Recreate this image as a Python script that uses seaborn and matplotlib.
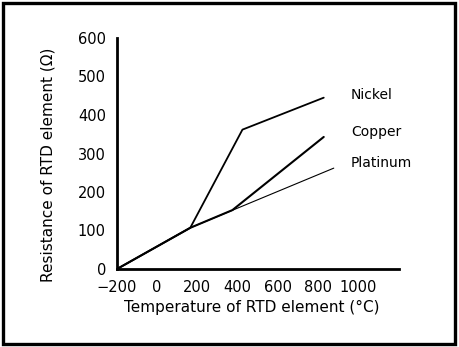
import matplotlib
matplotlib.use("Agg")
import matplotlib.pyplot as plt
from matplotlib.patches import Rectangle
import seaborn as sns
import pandas as pd

# Resistance vs. temperature for three RTD element materials
platinum_t = [-200, 165, 880]
platinum_r = [0, 107, 262]
copper_t = [-200, 165, 375, 830]
copper_r = [0, 107, 153, 343]
nickel_t = [-200, 165, 425, 830]
nickel_r = [0, 107, 362, 445]

x_ticks = [-200, 0, 200, 400, 600, 800, 1000]
y_ticks = [0, 100, 200, 300, 400, 500, 600]

series_labels = ["Nickel", "Copper", "Platinum"]
label_r = [452, 356, 275]
label_t = 965

sns.set_theme(style="white")
plt.rcParams["font.family"] = ["DejaVu Sans"]

fig = plt.figure(figsize=(4.6, 3.47), dpi=100)
ax = fig.add_axes([117 / 460, 1 - 269 / 347, (399 - 117) / 460, (269 - 38) / 347])

pt = pd.DataFrame({"t": platinum_t, "r": platinum_r})
cu = pd.DataFrame({"t": copper_t, "r": copper_r})
ni = pd.DataFrame({"t": nickel_t, "r": nickel_r})

sns.lineplot(data=pt, x="t", y="r", ax=ax, color="black", linewidth=0.8, sort=False)
sns.lineplot(data=cu, x="t", y="r", ax=ax, color="black", linewidth=1.5, sort=False)
sns.lineplot(data=ni, x="t", y="r", ax=ax, color="black", linewidth=1.3, sort=False)

ax.set_xlim(-200, 1205)
ax.set_ylim(0, 600)
ax.set_xticks(x_ticks)
ax.set_yticks(y_ticks)
ax.tick_params(direction="in", length=7, width=1.2, colors="black",
               labelsize=10.5, pad=8)
ax.tick_params(axis="x", pad=8)

for side in ("top", "right"):
    ax.spines[side].set_visible(False)
for side in ("left", "bottom"):
    ax.spines[side].set_color("black")
    ax.spines[side].set_linewidth(2)

ax.set_xlabel("Temperature of RTD element (°C)", fontsize=11, color="black")
ax.set_ylabel("Resistance of RTD element (Ω)", fontsize=11, color="black")
ax.xaxis.set_label_coords((252 - 117) / 282, (269 - 307) / 231)
ax.yaxis.set_label_coords((48 - 117) / 282, (269 - 165) / 231)
ax.xaxis.label.set_va("center")
ax.yaxis.label.set_va("center")

for name, r in zip(series_labels, label_r):
    ax.text(label_t, r, name, fontsize=10, color="black", va="center", ha="left",
            clip_on=False)

ax.set_facecolor("white")
fig.patch.set_facecolor("white")

# Outer frame around the whole figure
fig.patches.append(Rectangle((3 / 460, 1 - 344 / 347), (455 - 3) / 460, (344 - 3) / 347,
                             transform=fig.transFigure, fill=False,
                             edgecolor="black", linewidth=2.4))

fig.savefig("out.png", dpi=100)
